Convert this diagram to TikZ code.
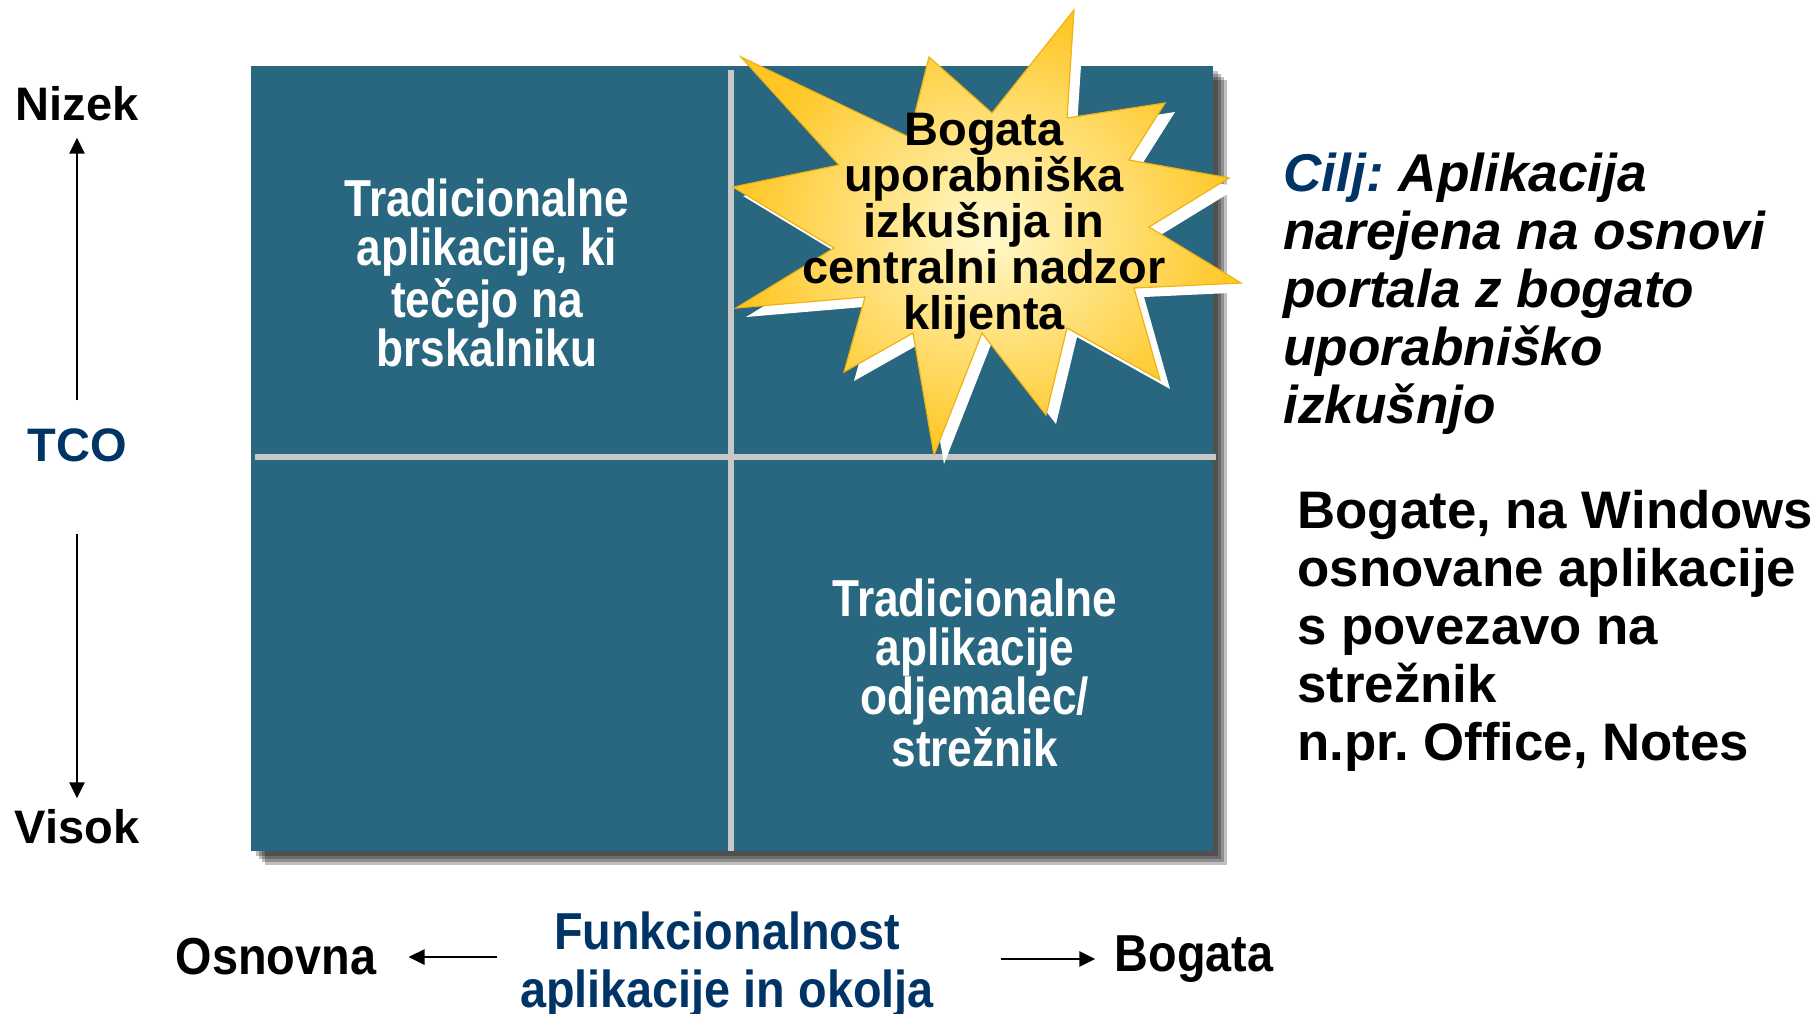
\documentclass[tikz,border=0pt]{standalone}
\usepackage{fontspec}
\setmainfont{Liberation Sans}
\newfontfamily\narrowfont[FakeStretch=0.85]{Liberation Sans}
\newfontfamily\axisfont[FakeStretch=0.9]{Liberation Sans}
\usetikzlibrary{arrows.meta}
\frenchspacing

\definecolor{quadblue}{RGB}{41,102,128}
\definecolor{gridgray}{RGB}{200,200,200}
\definecolor{tconavy}{RGB}{0,51,102}
\definecolor{staryellow}{RGB}{255,198,36}
\definecolor{starlight}{RGB}{255,250,205}
\definecolor{staredge}{RGB}{238,178,20}

\tikzset{
    sidelabel/.style={font=\fontsize{23.5}{28}\selectfont\bfseries, inner sep=0pt},
    axislabel/.style={font=\axisfont\fontsize{26}{29}\selectfont\bfseries, inner sep=0pt},
    quadtext/.style={font=\narrowfont\fontsize{26}{24.5}\selectfont\bfseries, text=white, align=center, inner sep=0pt},
    startext/.style={font=\fontsize{23.5}{23}\selectfont\bfseries, align=center, inner sep=0pt},
    goaltext/.style={font=\fontsize{26.6}{29}\selectfont\bfseries\itshape, align=left, inner sep=0pt, anchor=west},
    richtext/.style={font=\fontsize{26.4}{29}\selectfont\bfseries, align=left, inner sep=0pt, anchor=west},
    axisarrow/.style={->, line width=1.35pt}
}

\begin{document}
\begin{tikzpicture}[x=0.5pt, y=-0.5pt, >={Triangle[length=8pt, width=7.5pt]}]
    \useasboundingbox (0, 0) rectangle (1820, 1013);

    % quadrant box with its shadow
    \foreach \d in {5, 8, 11, 14}
        \fill[black, opacity=0.25] (251 + \d, 66 + \d) rectangle (1213 + \d, 851 + \d);
    \fill[quadblue] (251, 66) rectangle (1213, 851);
    \draw[gridgray, line width=3pt] (731, 70) -- (731, 851);
    \draw[gridgray, line width=3pt] (255, 457) -- (1216, 457);

    % star
    \fill[white, shift={(10, 9)}] (741, 57) -- (909, 137) -- (929, 57) -- (992, 113) -- (1074, 10) -- (1067, 118)
        -- (1165, 103) -- (1129, 160) -- (1229, 178) -- (1149, 227) -- (1241, 283) -- (1134, 288)
        -- (1160, 380) -- (1067, 328) -- (1046, 415) -- (982, 333) -- (934, 455) -- (913, 333)
        -- (844, 372) -- (865, 297) -- (736, 308) -- (834, 248) -- (733, 187) -- (839, 165) -- cycle;
    \shadedraw[inner color=starlight, outer color=staryellow, draw=staredge, line width=0.6pt]
        (741, 57) -- (909, 137) -- (929, 57) -- (992, 113) -- (1074, 10) -- (1067, 118)
        -- (1165, 103) -- (1129, 160) -- (1229, 178) -- (1149, 227) -- (1241, 283) -- (1134, 288)
        -- (1160, 380) -- (1067, 328) -- (1046, 415) -- (982, 333) -- (934, 455) -- (913, 333)
        -- (844, 372) -- (865, 297) -- (736, 308) -- (834, 248) -- (733, 187) -- (839, 165) -- cycle;

    \node[startext] (rich) at (984, 226) {Bogata\\uporabniška\\izkušnja in\\centralni nadzor\\klijenta};
    \node[quadtext] (browser) at (487, 273) {Tradicionalne\\aplikacije, ki\\tečejo na\\brskalniku};
    \node[quadtext] (clientsrv) at (975, 673) {Tradicionalne\\aplikacije\\odjemalec/\\strežnik};

    % TCO axis
    \node[sidelabel] (nizek) at (77, 104) {Nizek};
    \node[sidelabel, text=tconavy] (tco) at (77, 445) {TCO};
    \node[sidelabel] (visok) at (77, 827) {Visok};
    \draw[axisarrow, shorten <=13.75pt, shorten >=8pt] (tco.north) -- (nizek.south);
    \draw[axisarrow, shorten <=36pt, shorten >=5.5pt] (tco.south) -- (visok.north);

    % functionality axis
    \node[axislabel] (osnovna) at (276, 957) {Osnovna};
    \node[axislabel, text=tconavy, align=center] (funk) at (727, 965) {Funkcionalnost\\aplikacije in okolja};
    \node[axislabel] (bogata) at (1194, 959) {Bogata};
    \draw[axisarrow, shorten <=11.5pt, shorten >=16pt] (funk.west |- osnovna) -- (osnovna.east);
    \draw[axisarrow, shorten <=33.5pt, shorten >=9.5pt] (funk.east |- bogata) -- (bogata.west);

    % right side texts
    \node[goaltext] (goal) at (1283, 294) {\textcolor{tconavy}{Cilj:} Aplikacija\\narejena na osnovi\\portala z bogato\\uporabniško\\izkušnjo};
    \node[richtext] (windows) at (1297, 631) {Bogate, na Windows\\osnovane aplikacije\\s povezavo na\\strežnik\\n.pr. Office, Notes};
\end{tikzpicture}
\end{document}
